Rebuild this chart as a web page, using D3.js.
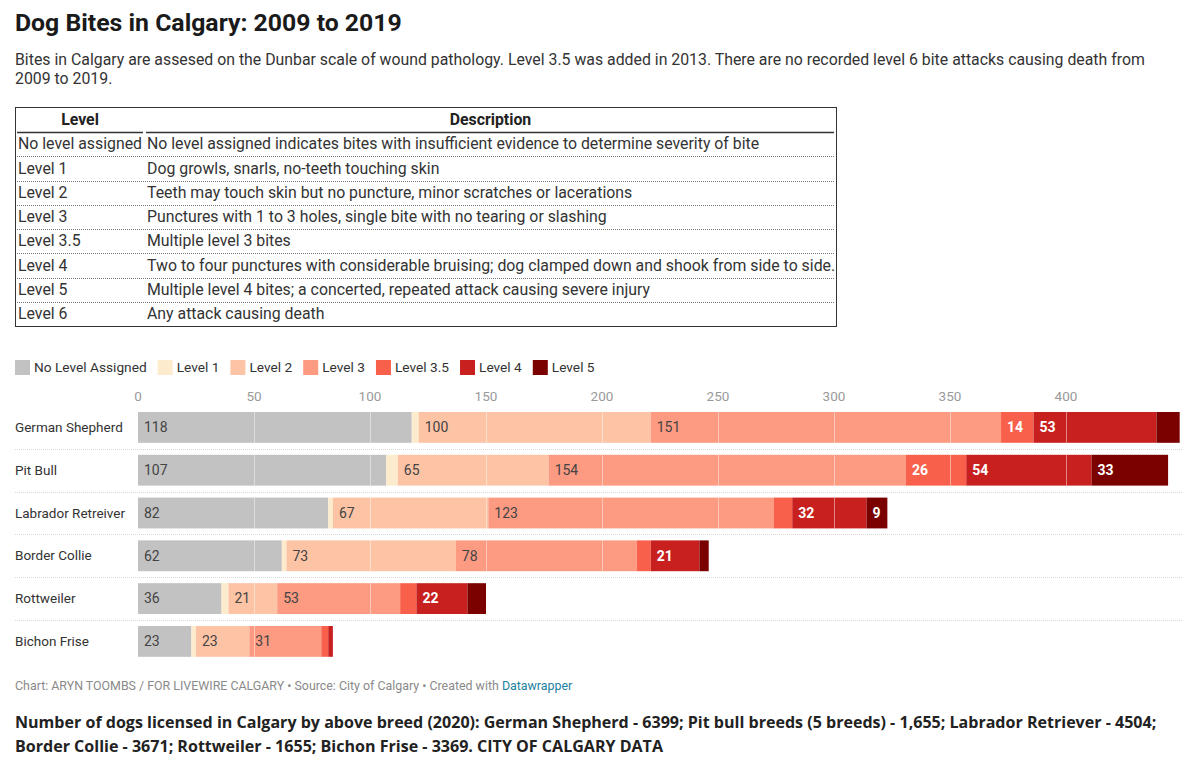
<!DOCTYPE html>
<html>
<head>
<meta charset="utf-8">
<script src="https://cdn.jsdelivr.net/npm/d3@7/dist/d3.min.js"></script>
<style>
  html, body { margin: 0; padding: 0; background: #fff; }
  svg { display: block; font-family: Roboto, "Noto Sans", sans-serif; }
</style>
</head>
<body>
<svg id="chart" width="1200" height="763"></svg>
<script>
// ---- data ----
const breeds = ["German Shepherd", "Pit Bull", "Labrador Retreiver", "Border Collie", "Rottweiler", "Bichon Frise"];
const levels = ["No Level Assigned", "Level 1", "Level 2", "Level 3", "Level 3.5", "Level 4", "Level 5"];
const noLevel  = [118, 107, 82, 62, 36, 23];
const level1   = [3, 5, 2, 2, 3, 2];
const level2   = [100, 65, 67, 73, 21, 23];
const level3   = [151, 154, 123, 78, 53, 31];
const level35  = [14, 26, 8, 6, 7, 3];
const level4   = [53, 54, 32, 21, 22, 2];
const level5   = [10, 33, 9, 4, 8, 0];
const xTicks   = [0, 50, 100, 150, 200, 250, 300, 350, 400];
const colors   = ["#c2c2c2", "#fdebcd", "#fdc3a5", "#fc9a82", "#f9604b", "#c8201f", "#7b0000"];
const lightText = [true, true, true, true, false, false, false];

const tableLevels = ["No level assigned", "Level 1", "Level 2", "Level 3", "Level 3.5", "Level 4", "Level 5", "Level 6"];
const tableDescs = [
  "No level assigned indicates bites with insufficient evidence to determine severity of bite",
  "Dog growls, snarls, no-teeth touching skin",
  "Teeth may touch skin but no puncture, minor scratches or lacerations",
  "Punctures with 1 to 3 holes, single bite with no tearing or slashing",
  "Multiple level 3 bites",
  "Two to four punctures with considerable bruising; dog clamped down and shook from side to side.",
  "Multiple level 4 bites; a concerted, repeated attack causing severe injury",
  "Any attack causing death"
];

const title = "Dog Bites in Calgary: 2009 to 2019";
const subtitleLines = [
  "Bites in Calgary are assesed on the Dunbar scale of wound pathology. Level 3.5 was added in 2013. There are no recorded level 6 bite attacks causing death from",
  "2009 to 2019."
];
const noteLines = [
  "Number of dogs licensed in Calgary by above breed (2020): German Shepherd - 6399; Pit bull breeds (5 breeds) - 1,655; Labrador Retriever - 4504;",
  "Border Collie - 3671; Rottweiler - 1655; Bichon Frise - 3369. CITY OF CALGARY DATA"
];

// ---- build ----
const series = [noLevel, level1, level2, level3, level35, level4, level5];
const rows = breeds.map((b, i) => {
  const o = { breed: b };
  levels.forEach((l, j) => o[l] = series[j][i]);
  return o;
});
const stacked = d3.stack().keys(levels)(rows);

const svg = d3.select("#chart");

// Title & subtitle
svg.append("text").attr("x", 15).attr("y", 31)
  .attr("font-size", 24.8).attr("font-weight", 700).attr("fill", "#1a1a1a")
  .text(title);
svg.append("g").selectAll("text").data(subtitleLines).join("text")
  .attr("x", 15).attr("y", (d, i) => 65 + i * 19)
  .attr("font-size", 15.85).attr("fill", "#333").attr("font-weight", 400)
  .text(d => d);

// Table
const tFont = 15.85;
const tX0 = 15, tX1 = 836, tY0 = 107, headerH = 25, rowH = 24.25, col2 = 145;
const tbl = svg.append("g");
tbl.append("rect").attr("x", tX0 + 0.5).attr("y", tY0 + 0.5)
  .attr("width", tX1 - tX0).attr("height", headerH + rowH * tableLevels.length)
  .attr("fill", "none").attr("stroke", "#333").attr("stroke-width", 1);
tbl.append("text").attr("x", (tX0 + col2) / 2).attr("y", tY0 + headerH / 2 + 1)
  .attr("text-anchor", "middle").attr("dominant-baseline", "middle")
  .attr("font-size", tFont).attr("font-weight", 700).attr("fill", "#222").text("Level");
tbl.append("text").attr("x", (col2 + tX1) / 2).attr("y", tY0 + headerH / 2 + 1)
  .attr("text-anchor", "middle").attr("dominant-baseline", "middle")
  .attr("font-size", tFont).attr("font-weight", 700).attr("fill", "#222").text("Description");
tbl.append("line").attr("x1", tX0 + 2).attr("x2", col2 - 2)
  .attr("y1", tY0 + headerH + 0.5).attr("y2", tY0 + headerH + 0.5).attr("stroke", "#333").attr("stroke-width", 1.5);
tbl.append("line").attr("x1", col2 + 1).attr("x2", tX1 - 2)
  .attr("y1", tY0 + headerH + 0.5).attr("y2", tY0 + headerH + 0.5).attr("stroke", "#333").attr("stroke-width", 1.5);
tableLevels.forEach((lv, i) => {
  const yTop = tY0 + headerH + i * rowH;
  if (i > 0) {
    tbl.append("line").attr("x1", tX0 + 2).attr("x2", tX1 - 1)
      .attr("y1", Math.round(yTop) + 0.5).attr("y2", Math.round(yTop) + 0.5)
      .attr("stroke", "#777").attr("stroke-width", 1).attr("stroke-dasharray", "1,1");
  }
  tbl.append("text").attr("x", tX0 + 3).attr("y", yTop + rowH / 2 + 1)
    .attr("dominant-baseline", "middle").attr("font-size", tFont).attr("fill", "#333").text(lv);
  tbl.append("text").attr("x", col2 + 2).attr("y", yTop + rowH / 2 + 1)
    .attr("dominant-baseline", "middle").attr("font-size", tFont).attr("fill", "#333").text(tableDescs[i]);
});

// Legend
const legend = svg.append("g").attr("transform", "translate(15,360)");
let lx = 0;
levels.forEach((l, i) => {
  const g = legend.append("g").attr("transform", `translate(${lx},0)`);
  g.append("rect").attr("width", 15).attr("height", 15).attr("fill", colors[i]);
  const t = g.append("text").attr("x", 19).attr("y", 8).attr("dominant-baseline", "middle")
    .attr("font-size", 13.7).attr("fill", "#333").text(l);
  lx += 19 + t.node().getComputedTextLength() + 11;
});

// Scales
const x = d3.scaleLinear().domain([0, 450]).range([138, 138 + 450 * 2.32]);
const y = d3.scaleBand().domain(breeds).range([406, 662.8]).paddingInner(0.28).paddingOuter(0.14);

// x axis ticks (labels only)
svg.append("g").selectAll("text").data(xTicks).join("text")
  .attr("x", d => x(d)).attr("y", 397).attr("text-anchor", "middle")
  .attr("dominant-baseline", "middle").attr("font-size", 13.5).attr("fill", "#9a9a9a")
  .text(d => d);

// row separators (between rows only)
const sepY = breeds.slice(0, -1).map(b => y(b) + y.bandwidth() + (y.step() - y.bandwidth()) / 2);
svg.append("g").selectAll("line").data(sepY).join("line")
  .attr("x1", 15).attr("x2", 1182)
  .attr("y1", d => Math.round(d) + 0.5).attr("y2", d => Math.round(d) + 0.5)
  .attr("stroke", "#d8d8d8").attr("stroke-dasharray", "1,1");

// row labels
svg.append("g").selectAll("text").data(breeds).join("text")
  .attr("x", 15).attr("y", d => y(d) + y.bandwidth() / 2 + 1)
  .attr("dominant-baseline", "middle").attr("font-size", 13.5).attr("fill", "#333")
  .text(d => d);

// bars
const barG = svg.append("g");
stacked.forEach((s, j) => {
  barG.append("g").attr("fill", colors[j]).selectAll("rect").data(s).join("rect")
    .attr("x", d => x(d[0])).attr("y", d => y(d.data.breed))
    .attr("width", d => Math.max(0, x(d[1]) - x(d[0]))).attr("height", y.bandwidth());
});

// grid lines over bars
const gridG = svg.append("g");
rows.forEach((r, i) => {
  const total = levels.reduce((a, l) => a + r[l], 0);
  xTicks.filter(t => t > 0 && t < total).forEach(t => {
    gridG.append("line").attr("x1", Math.round(x(t)) + 0.5).attr("x2", Math.round(x(t)) + 0.5)
      .attr("y1", y(r.breed)).attr("y2", y(r.breed) + y.bandwidth())
      .attr("stroke", "#fff").attr("stroke-opacity", 0.45).attr("stroke-width", 1);
  });
});

// value labels
const labG = svg.append("g");
stacked.forEach((s, j) => {
  s.forEach(d => {
    const v = d[1] - d[0];
    if (v <= 0) return;
    const w = x(d[1]) - x(d[0]);
    const t = labG.append("text").attr("x", x(d[0]) + 6).attr("y", y(d.data.breed) + y.bandwidth() / 2 + 1)
      .attr("dominant-baseline", "middle").attr("font-size", 14)
      .attr("font-weight", lightText[j] ? 400 : 700)
      .attr("fill", lightText[j] ? "#444" : "#fff")
      .text(v);
    if (t.node().getComputedTextLength() + 11 > w) t.remove();
  });
});

// footer
const foot = svg.append("text").attr("x", 15).attr("y", 690).attr("font-size", 12.4).attr("fill", "#8a8a8a");
foot.append("tspan").text("Chart: ARYN TOOMBS / FOR LIVEWIRE CALGARY • Source: City of Calgary • Created with ");
foot.append("tspan").attr("fill", "#1d81a2").text("Datawrapper");

const notes = svg.append("g").selectAll("text").data(noteLines).join("text")
  .attr("x", 15).attr("y", (d, i) => 728 + i * 24)
  .attr("font-family", "'Open Sans', 'Noto Sans', sans-serif")
  .attr("font-size", 16).attr("font-weight", 700).attr("fill", "#222")
  .text(d => d);
// fit first note line to the reference width (~1142px)
const measured = notes.nodes()[0].getComputedTextLength();
const fitSize = 16 * 1142 / measured;
notes.attr("font-size", fitSize);
</script>
</body>
</html>
